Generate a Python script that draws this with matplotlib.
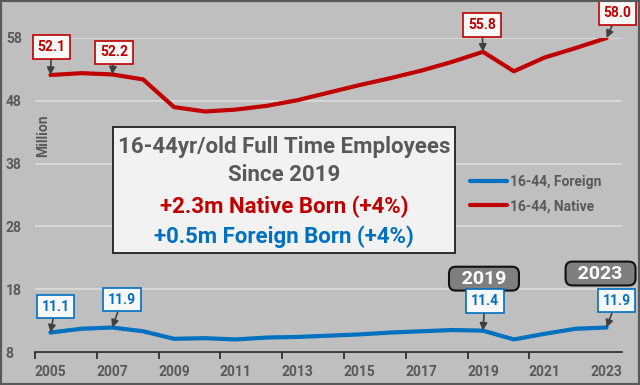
import matplotlib
matplotlib.use("Agg")
import matplotlib.pyplot as plt
from matplotlib.patches import Rectangle

years = list(range(2005, 2024))
native = [52.1, 52.4, 52.2, 51.4, 47.0, 46.3, 46.6, 47.2, 48.1, 49.3, 50.5, 51.6, 52.8, 54.2, 55.8, 52.7, 54.9, 56.4, 58.0]
foreign = [11.1, 11.7, 11.9, 11.3, 10.1, 10.2, 10.0, 10.3, 10.4, 10.6, 10.8, 11.1, 11.3, 11.5, 11.4, 10.0, 10.9, 11.7, 11.9]
yticks = [8, 18, 28, 38, 48, 58]
series_names = ["16-44, Foreign", "16-44, Native"]
native_labels = {2005: "52.1", 2007: "52.2", 2019: "55.8", 2023: "58.0"}
foreign_labels = {2005: "11.1", 2007: "11.9", 2019: "11.4", 2023: "11.9"}
year_boxes = [2019, 2023]
box_lines = ["16-44yr/old Full Time Employees", "Since 2019",
             "+2.3m Native Born (+4%)", "+0.5m Foreign Born (+4%)"]

RED = "#C00000"
BLUE = "#0070C0"
GRAY = "#595959"
BG = "#BFBFBF"
FONT = "Roboto"

plt.rcParams['font.family'] = [FONT, 'DejaVu Sans']

fig = plt.figure(figsize=(6.4, 3.85), dpi=100, facecolor=BG)
ax = fig.add_axes([35/640, 1-352/385, (622-35)/640, (352-38)/385])
ax.set_facecolor(BG)

x = list(range(len(years)))
l1, = ax.plot(x, foreign, color=BLUE, lw=3, solid_capstyle='round', zorder=3)
l2, = ax.plot(x, native, color=RED, lw=3, solid_capstyle='round', zorder=3)

ax.set_xlim(-0.5, len(years) - 0.5)
ax.set_ylim(yticks[0], yticks[-1])
ax.set_yticks(yticks)
ax.yaxis.grid(True, color="#DCDCDC", lw=1.2)
ax.set_axisbelow(True)
for s in ['left', 'right', 'top']:
    ax.spines[s].set_visible(False)
ax.spines['bottom'].set_color("#262626")
ax.spines['bottom'].set_linewidth(1.2)

ax.set_xticks([i - 0.5 for i in range(0, len(years) - 1, 2)])
ax.set_xticklabels([])
ax.set_xticks(list(range(0, len(years), 2)), minor=True)
ax.set_xticklabels([str(years[i]) for i in range(0, len(years), 2)], minor=True)
ax.tick_params(axis='x', which='major', length=5, width=1.2, color="#262626", direction='out')
ax.tick_params(axis='x', which='minor', length=0, pad=9, labelsize=10, labelcolor=GRAY)
ax.tick_params(axis='y', length=0, pad=21, labelsize=10, labelcolor=GRAY)
for t in ax.get_xticklabels(minor=True) + ax.get_yticklabels():
    t.set_fontweight('bold')
for t in ax.get_yticklabels():
    t.set_horizontalalignment('left')
ax.set_ylabel("Million", color=GRAY, fontsize=10, fontweight='bold')
ax.yaxis.set_label_coords(0.026, 0.69)

arrow = dict(arrowstyle='-|>', color="#404040", lw=1.2, mutation_scale=11, shrinkA=0, shrinkB=0)

nat_off = {2005: (1, 28), 2007: (2, 22), 2019: (-1, 27), 2023: (11, 25)}
for yr, txt in native_labels.items():
    i = years.index(yr)
    ax.annotate(txt, xy=(i, native[i]), xytext=nat_off[yr], textcoords='offset pixels',
                ha='center', va='center', color=RED, fontsize=10, fontweight='bold',
                bbox=dict(boxstyle='square,pad=0.35', fc='#F8F8F8', ec=RED, lw=1.2),
                arrowprops=arrow, annotation_clip=False, zorder=7)

for_off = {2005: (5, 26), 2007: (10, 28), 2019: (2, 30), 2023: (10, 27)}
for yr, txt in foreign_labels.items():
    i = years.index(yr)
    ax.annotate(txt, xy=(i, foreign[i]), xytext=for_off[yr], textcoords='offset pixels',
                ha='center', va='center', color=BLUE, fontsize=10, fontweight='bold',
                bbox=dict(boxstyle='square,pad=0.35', fc='#F8F8F8', ec=BLUE, lw=1.2),
                arrowprops=arrow, annotation_clip=False, zorder=7)

yb_off = {2019: (1, 52), 2023: (-6, 54)}
for yr in year_boxes:
    i = years.index(yr)
    ax.annotate("  " + str(yr) + "  ", xy=(i, foreign[i]), xytext=yb_off[yr], textcoords='offset pixels',
                ha='center', va='center', color='white', fontsize=14, fontweight='bold',
                bbox=dict(boxstyle='round,pad=0.15,rounding_size=0.35', fc='#7F7F7F', ec='#111111', lw=1.5),
                annotation_clip=False, zorder=6)

ax.legend([l1, l2], series_names, loc='upper left', bbox_to_anchor=(463/640, 1-168/385),
          bbox_transform=fig.transFigure, frameon=False, handlelength=2.7,
          handletextpad=0.15, labelspacing=0.75, borderpad=0,
          prop=dict(family=FONT, weight='bold', size=10))
for t in ax.get_legend().get_texts():
    t.set_color(GRAY)

fig.patches.append(Rectangle((113/640, 1-253/385), 342/640, 126/385, transform=fig.transFigure,
                             fc='#F2F2F2', ec='#111111', lw=1.2, zorder=10))
cols = [GRAY, GRAY, RED, BLUE]
ys = [147, 175, 207, 237]
for txt, c, yy in zip(box_lines, cols, ys):
    fig.text(284/640, 1-yy/385, txt, ha='center', va='center', color=c, fontsize=16,
             fontweight='bold', zorder=11)

fig.patches.append(Rectangle((0, 0), 1, 1, transform=fig.transFigure, fc='none',
                             ec='#595959', lw=3, zorder=20))
fig.savefig("out.png", dpi=100, facecolor=BG)
